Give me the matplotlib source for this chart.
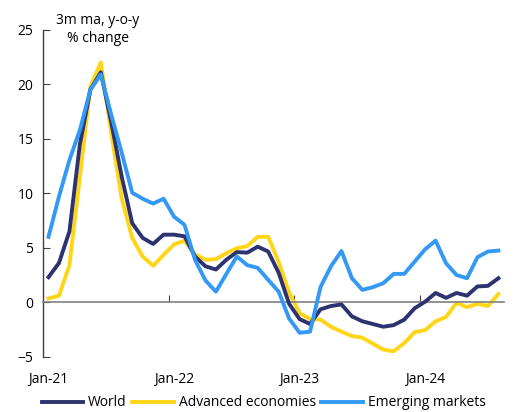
"""
plot.py - World trade growth, 3m ma y-o-y
"""

import numpy as np
import matplotlib
matplotlib.use("Agg")
import matplotlib.pyplot as plt

#============================================
# DATA (monthly, Jan-21 .. Aug-24)
#============================================

months = np.arange(44)

world = [2.3, 3.6, 6.5, 14.5, 19.5, 21.1, 16.5, 11.5, 7.25, 5.9,
         5.35, 6.2, 6.2, 6.05, 4.2, 3.3, 3.0, 3.9, 4.6, 4.55,
         5.1, 4.65, 2.7, -0.15, -1.55, -2.0, -0.65, -0.35, -0.2, -1.3,
         -1.75, -2.0, -2.25, -2.1, -1.6, -0.55, 0.05, 0.85, 0.4, 0.85,
         0.6, 1.45, 1.5, 2.2]

advanced = [0.35, 0.6, 3.4, 11.5, 19.8, 22.0, 15.5, 9.5, 5.9, 4.2,
            3.35, 4.35, 5.3, 5.65, 4.4, 3.9, 3.95, 4.5, 4.95, 5.15,
            6.0, 6.0, 3.7, 0.9, -1.0, -1.55, -1.6, -2.25, -2.7, -3.1,
            -3.25, -3.8, -4.35, -4.5, -3.75, -2.75, -2.55, -1.75, -1.35, -0.05,
            -0.45, -0.15, -0.35, 0.75]

emerging = [6.0, 9.7, 13.05, 15.8, 19.5, 20.9, 17.2, 13.7, 10.05, 9.5,
            9.05, 9.5, 7.85, 7.1, 3.9, 2.0, 0.97, 2.6, 4.2, 3.4,
            3.15, 2.05, 0.97, -1.5, -2.8, -2.7, 1.4, 3.3, 4.7, 2.2,
            1.13, 1.38, 1.75, 2.6, 2.6, 3.73, 4.86, 5.65, 3.57, 2.5,
            2.2, 4.13, 4.65, 4.74]

year_labels = ["Jan-21", "Jan-22", "Jan-23", "Jan-24"]

#============================================
# STYLE
#============================================

plt.rcParams['font.family'] = ['Open Sans', 'DejaVu Sans']
plt.rcParams['font.size'] = 10

NAVY = "#2E3370"
GOLD = "#FFD617"
SKY = "#3399F5"

#============================================
# PLOT
#============================================

fig = plt.figure(figsize=(5.14, 4.12), dpi=100)
ax = fig.add_axes([0.0842, 0.1342, 0.8956, 0.7935])

ax.plot(months, world, color=NAVY, lw=2.8, label="World", zorder=3)
ax.plot(months, advanced, color=GOLD, lw=2.8, label="Advanced economies", zorder=2)
ax.plot(months, emerging, color=SKY, lw=2.8, label="Emerging markets", zorder=4)

ax.set_xlim(-0.5, 43.5)
ax.set_ylim(-5, 25)
ax.set_yticks(range(-5, 26, 5))

# x axis sits on zero, labels pushed below the plot
ax.spines['bottom'].set_position(('data', 0))
ax.spines['bottom'].set_color("#808080")
ax.spines['bottom'].set_linewidth(1.2)
ax.spines['top'].set_visible(False)
ax.spines['right'].set_visible(False)
ax.spines['left'].set_color("#404040")
ax.spines['left'].set_linewidth(1.0)

ax.set_xticks([11.5, 23.5, 35.5])
ax.set_xticklabels([])
ax.set_xticks(np.arange(0, 44, 12), minor=True)
ax.set_xticklabels(year_labels, minor=True)
ax.tick_params(axis='x', which='major', direction='in', length=5, color="#404040")
ax.tick_params(axis='x', which='minor', length=0, pad=50, labelsize=10)
ax.tick_params(axis='y', direction='in', length=5, pad=7, color="#404040", labelsize=10)

ax.text(0.118, 1.0, "3m ma, y-o-y\n% change", transform=ax.transAxes,
        ha='center', va='center', fontsize=10, linespacing=1.3)

ax.legend(loc='center', bbox_to_anchor=(0.513, 0.022), bbox_transform=fig.transFigure,
          ncol=3, frameon=False, handlelength=3.0, handletextpad=0.35,
          columnspacing=0.4, fontsize=10, borderpad=0)

fig.savefig("out.png", dpi=100)
